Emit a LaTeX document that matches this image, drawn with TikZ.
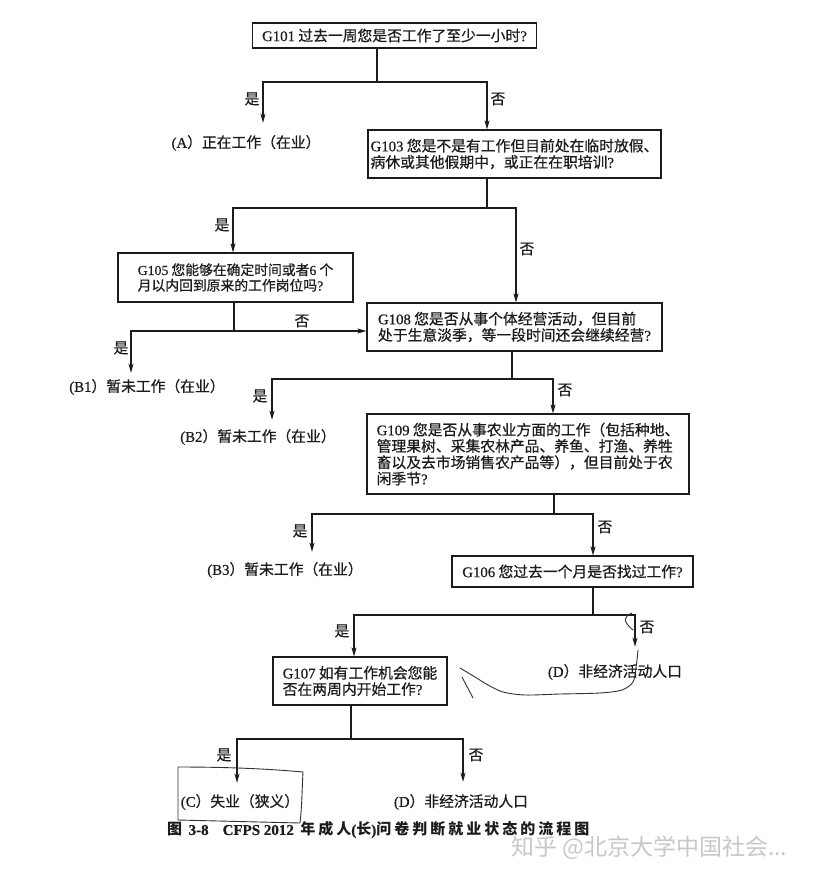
\documentclass[tikz,border=0pt]{standalone}
\usepackage{fontspec}
\setmainfont[RawFeature={embolden=0.6}]{Liberation Serif}
\newfontfamily\cjk[RawFeature={embolden=0.6}]{Noto Sans CJK SC}
\newfontfamily\cjkmark{Noto Sans CJK SC}
\newfontfamily\cjkcap[LetterSpace=20]{Noto Sans CJK SC}
\usetikzlibrary{arrows.meta}
\usepackage{xcolor}
\definecolor{scanInk}{RGB}{28,28,28}
\definecolor{penInk}{RGB}{50,50,60}
\definecolor{markGray}{RGB}{200,200,200}
\newcommand{\en}[1]{{\rmfamily #1}}

\begin{document}
\begin{tikzpicture}[x=1pt, y=-1pt,
    qbox/.style={draw=scanInk, line width=1.1pt, align=left, inner sep=0pt, text=scanInk, font=\cjk\fontsize{14.8}{16.3}\selectfont},
    outcome/.style={inner sep=0pt, minimum height=38pt, text=scanInk, font=\cjk\fontsize{14.8}{16.3}\selectfont},
    lbl/.style={inner sep=0pt, text=scanInk, font=\cjk\fontsize{14.8}{16.3}\selectfont},
    line/.style={draw=scanInk, line width=1.1pt},
    arr/.style={draw=scanInk, line width=1.1pt, -{Stealth[length=9pt, width=5pt, inset=2pt]}},
    pen/.style={draw=penInk, line width=0.9pt, line cap=round, line join=round}]
  \path[fill=white] (0,0) rectangle (812,878);
  \useasboundingbox (0,0) rectangle (812,878);

  \node[qbox, minimum width=284pt, minimum height=25pt, font=\cjk\fontsize{14.8}{17}\selectfont] (g101) at (394.5,35.5) {\en{G101} 过去一周您是否工作了至少一小时\en{?}};
  \node[qbox, minimum width=293pt, minimum height=48pt] (g103) at (514.5,154) {\en{G103} 您是不是有工作但目前处在临时放假、\\病休或其他假期中，或正在在职培训\en{?}};
  \node[qbox, minimum width=235pt, minimum height=49pt, font=\cjk\fontsize{13.8}{15.5}\selectfont] (g105) at (235.5,277.5) {\en{G105} 您能够在确定时间或者\en{6} 个\\月以内回到原来的工作岗位吗\en{?}};
  \node[qbox, minimum width=295pt, minimum height=48pt] (g108) at (514.5,327) {\en{G108} 您是否从事个体经营活动，但目前\\处于生意淡季，等一段时间还会继续经营\en{?}};
  \node[qbox, minimum width=322pt, minimum height=80pt] (g109) at (528,454) {\en{G109} 您是否从事农业方面的工作（包括种地、\\管理果树、采集农林产品、养鱼、打渔、养牲\\畜以及去市场销售农产品等），但目前处于农\\闲季节\en{?}};
  \node[qbox, minimum width=241pt, minimum height=31pt] (g106) at (572.5,571.5) {\en{G106} 您过去一个月是否找过工作\en{?}};
  \node[qbox, minimum width=174pt, minimum height=48pt] (g107) at (360,681) {\en{G107} 如有工作机会您能\\否在两周内开始工作\en{?}};

  \node[outcome, minimum height=40pt] (ra) at (246,143) {\en{(A}）正在工作（在业）};
  \node[outcome, minimum height=28pt] (rb1) at (147,387) {\en{(B1}）暂未工作（在业）};
  \node[outcome, minimum height=34pt] (rb2) at (258,437) {\en{(B2}）暂未工作（在业）};
  \node[outcome, minimum height=36pt] (rb3) at (285,570) {\en{(B3}）暂未工作（在业）};
  \node[outcome, minimum height=50pt] (rd1) at (615,672) {\en{(D}）非经济活动人口};
  \node[outcome] (rc) at (240,802) {\en{(C}）失业（狭义）};
  \node[outcome, minimum height=40pt] (rd2) at (461,802) {\en{(D}）非经济活动人口};

  \coordinate (j1) at (377,82);  \coordinate (j1l) at (263,82);  \coordinate (j1r) at (487,82);
  \coordinate (j2) at (487,208); \coordinate (j2l) at (233,208); \coordinate (j2r) at (516,208);
  \coordinate (j3) at (234,331); \coordinate (j3l) at (131,331);
  \coordinate (j4) at (512,379); \coordinate (j4l) at (272,379); \coordinate (j4r) at (553,379);
  \coordinate (j5) at (554,514); \coordinate (j5l) at (312,514); \coordinate (j5r) at (593,514);
  \coordinate (j6) at (593,615); \coordinate (j6l) at (354,615); \coordinate (j6r) at (635,615);
  \coordinate (j7) at (351,739); \coordinate (j7l) at (237,739); \coordinate (j7r) at (463,739);

  \draw[line] (g101.south -| j1) -- (j1);
  \draw[arr] (j1) -- (j1l) -- (j1l |- ra.north);
  \draw[arr] (j1) -- (j1r) -- (j1r |- g103.north);
  \draw[line] (g103.south -| j2) -- (j2);
  \draw[arr] (j2) -- (j2l) -- (j2l |- g105.north);
  \draw[arr] (j2) -- (j2r) -- (j2r |- g108.north);
  \draw[line] (g105.south -| j3) -- (j3);
  \draw[arr] (j3) -- (j3l) -- (j3l |- rb1.north);
  \draw[arr] (j3) -- (j3 -| g108.west);
  \draw[line] (g108.south -| j4) -- (j4);
  \draw[arr] (j4) -- (j4l) -- (j4l |- rb2.north);
  \draw[arr] (j4) -- (j4r) -- (j4r |- g109.north);
  \draw[line] (g109.south -| j5) -- (j5);
  \draw[arr] (j5) -- (j5l) -- (j5l |- rb3.north);
  \draw[arr] (j5) -- (j5r) -- (j5r |- g106.north);
  \draw[line] (g106.south -| j6) -- (j6);
  \draw[arr] (j6) -- (j6l) -- (j6l |- g107.north);
  \draw[arr] (j6) -- (j6r) -- (j6r |- rd1.north);
  \draw[line] (g107.south -| j7) -- (j7);
  \draw[arr] (j7) -- (j7l) -- (j7l |- rc.north);
  \draw[arr] (j7) -- (j7r) -- (j7r |- rd2.north);

  \node[lbl] (y1) at (252,99) {是};
  \node[lbl] (n1) at (498,99) {否};
  \node[lbl] (y2) at (222,225) {是};
  \node[lbl] (n2) at (527,249) {否};
  \node[lbl] (n3) at (302,321) {否};
  \node[lbl] (y3) at (121,348) {是};
  \node[lbl] (y4) at (260,396) {是};
  \node[lbl] (n4) at (565,390) {否};
  \node[lbl] (y5) at (300,531) {是};
  \node[lbl] (n5) at (605,527) {否};
  \node[lbl] (y6) at (342,631) {是};
  \node[lbl] (n6) at (647,627) {否};
  \node[lbl] (y7) at (224,755) {是};
  \node[lbl] (n7) at (476,755) {否};

  \node[anchor=west, inner sep=0pt, text=scanInk, font=\cjkcap\bfseries\fontsize{15}{18}\selectfont] (cap) at (167,830) {图 \en{3-8}\hspace{14pt}\en{CFPS 2012} 年成人\en{(}长\en{)}问卷判断就业状态的流程图};
  \node[anchor=west, inner sep=0pt, text=markGray, font=\cjkmark\fontsize{23}{27}\selectfont] (wm) at (511,848) {知乎 @北京大学中国社会...};

  \draw[pen] (178,780) -- (178,767) .. controls (230,767) and (270,769) .. (303,772) .. controls (302,790) and (302,806) .. (300,823) -- (178,820) -- (178,767);
  \draw[pen] (632,613) .. controls (625,616) and (621,620) .. (633,630);
  \draw[pen] plot[smooth] coordinates {(638,650) (636,668) (633,682) (622,690) (600,693) (560,694) (525,695) (503,692) (488,685) (475,677) (460,668)};
  \draw[pen] (462,677) -- (473,698);
\end{tikzpicture}
\end{document}
